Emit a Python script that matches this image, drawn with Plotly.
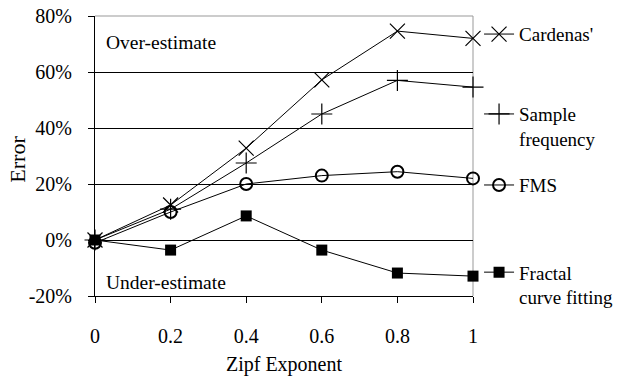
import plotly.graph_objects as go

zipf = [0, 0.2, 0.4, 0.6, 0.8, 1.0]
cardenas = [0, 12.5, 32.8, 57.2, 74.6, 72.0]
sample_freq = [0, 11.0, 27.5, 45.0, 57.0, 54.6]
fms = [-1.0, 10.0, 20.0, 23.0, 24.4, 22.0]
fractal = [0, -3.6, 8.6, -3.6, -11.8, -12.9]

x_ticks = [0, 0.2, 0.4, 0.6, 0.8, 1.0]
x_ticktext = ["0", "0.2", "0.4", "0.6", "0.8", "1"]
y_ticks = [-20, 0, 20, 40, 60, 80]
y_ticktext = ["-20%", "0%", "20%", "40%", "60%", "80%"]

FONT = "Liberation Serif"

fig = go.Figure()
fig.add_trace(go.Scatter(x=zipf, y=cardenas, name="Cardenas'", mode="lines+markers",
                         line=dict(color="black", width=1),
                         marker=dict(symbol="x-thin-open", size=15, line=dict(color="black", width=1.2)),
                         cliponaxis=False, legend="legend"))
fig.add_trace(go.Scatter(x=zipf, y=sample_freq, name="Sample<br>frequency", mode="lines+markers",
                         line=dict(color="black", width=1),
                         marker=dict(symbol="cross-thin-open", size=15, line=dict(color="black", width=1.2)),
                         cliponaxis=False, legend="legend2"))
fig.add_trace(go.Scatter(x=zipf, y=fms, name="FMS", mode="lines+markers",
                         line=dict(color="black", width=1),
                         marker=dict(symbol="circle-open", size=12, line=dict(color="black", width=2)),
                         cliponaxis=False, legend="legend3"))
fig.add_trace(go.Scatter(x=zipf, y=fractal, name="Fractal<br>curve fitting", mode="lines+markers",
                         line=dict(color="black", width=1),
                         marker=dict(symbol="square", size=11, color="black"),
                         cliponaxis=False, legend="legend4"))

leg_common = dict(xanchor="left", x=1.016, yanchor="middle", font=dict(family=FONT, size=19, color="black"),
                  bgcolor="rgba(0,0,0,0)", itemwidth=30, valign="top")
fig.update_layout(
    width=618, height=379,
    margin=dict(l=95, r=145, t=16, b=83, autoexpand=False),
    paper_bgcolor="white", plot_bgcolor="white",
    font=dict(family=FONT, size=20, color="black"),
    showlegend=True,
    legend=dict(y=0.935, **leg_common),
    legend2=dict(y=0.605, **leg_common),
    legend3=dict(y=0.396, **leg_common),
    legend4=dict(y=0.04, **leg_common),
    xaxis=dict(range=[0, 1], tickvals=x_ticks, ticktext=x_ticktext, showgrid=False, zeroline=False,
               showline=True, linecolor="black", linewidth=1, ticks="outside", ticklen=6, tickcolor="black",
               ticklabelstandoff=16, automargin=False,
               title=dict(text="Zipf Exponent", font=dict(family=FONT, size=20, color="black"), standoff=10)),
    yaxis=dict(range=[-20, 80], tickvals=y_ticks, ticktext=y_ticktext, showgrid=True, gridcolor="black",
               gridwidth=1, zeroline=False, showline=True, linecolor="black", linewidth=1,
               ticks="outside", ticklen=6, tickcolor="black", ticklabelstandoff=12, automargin=False),
    shapes=[
        dict(type="line", xref="paper", yref="paper", x0=0, x1=1, y0=1, y1=1,
             line=dict(color="#999999", width=1), layer="above"),
        dict(type="line", xref="paper", yref="paper", x0=1, x1=1, y0=0, y1=1,
             line=dict(color="#999999", width=1), layer="below"),
    ],
    annotations=[
        dict(text="Error", xref="paper", yref="paper", x=-0.204, y=0.49, xanchor="center",
             yanchor="middle", textangle=-90, showarrow=False,
             font=dict(family=FONT, size=22, color="black")),
        dict(text="Over-estimate", xref="paper", yref="paper", x=0.024, y=0.907, xanchor="left",
             yanchor="middle", showarrow=False, font=dict(family=FONT, size=19.5, color="black")),
        dict(text="Under-estimate", xref="paper", yref="paper", x=0.024, y=0.05, xanchor="left",
             yanchor="middle", showarrow=False, font=dict(family=FONT, size=19.5, color="black")),
    ],
)

fig.write_html("out.html", config={"displayModeBar": False},
               post_script="document.body.style.margin='0';document.body.style.padding='0';")
